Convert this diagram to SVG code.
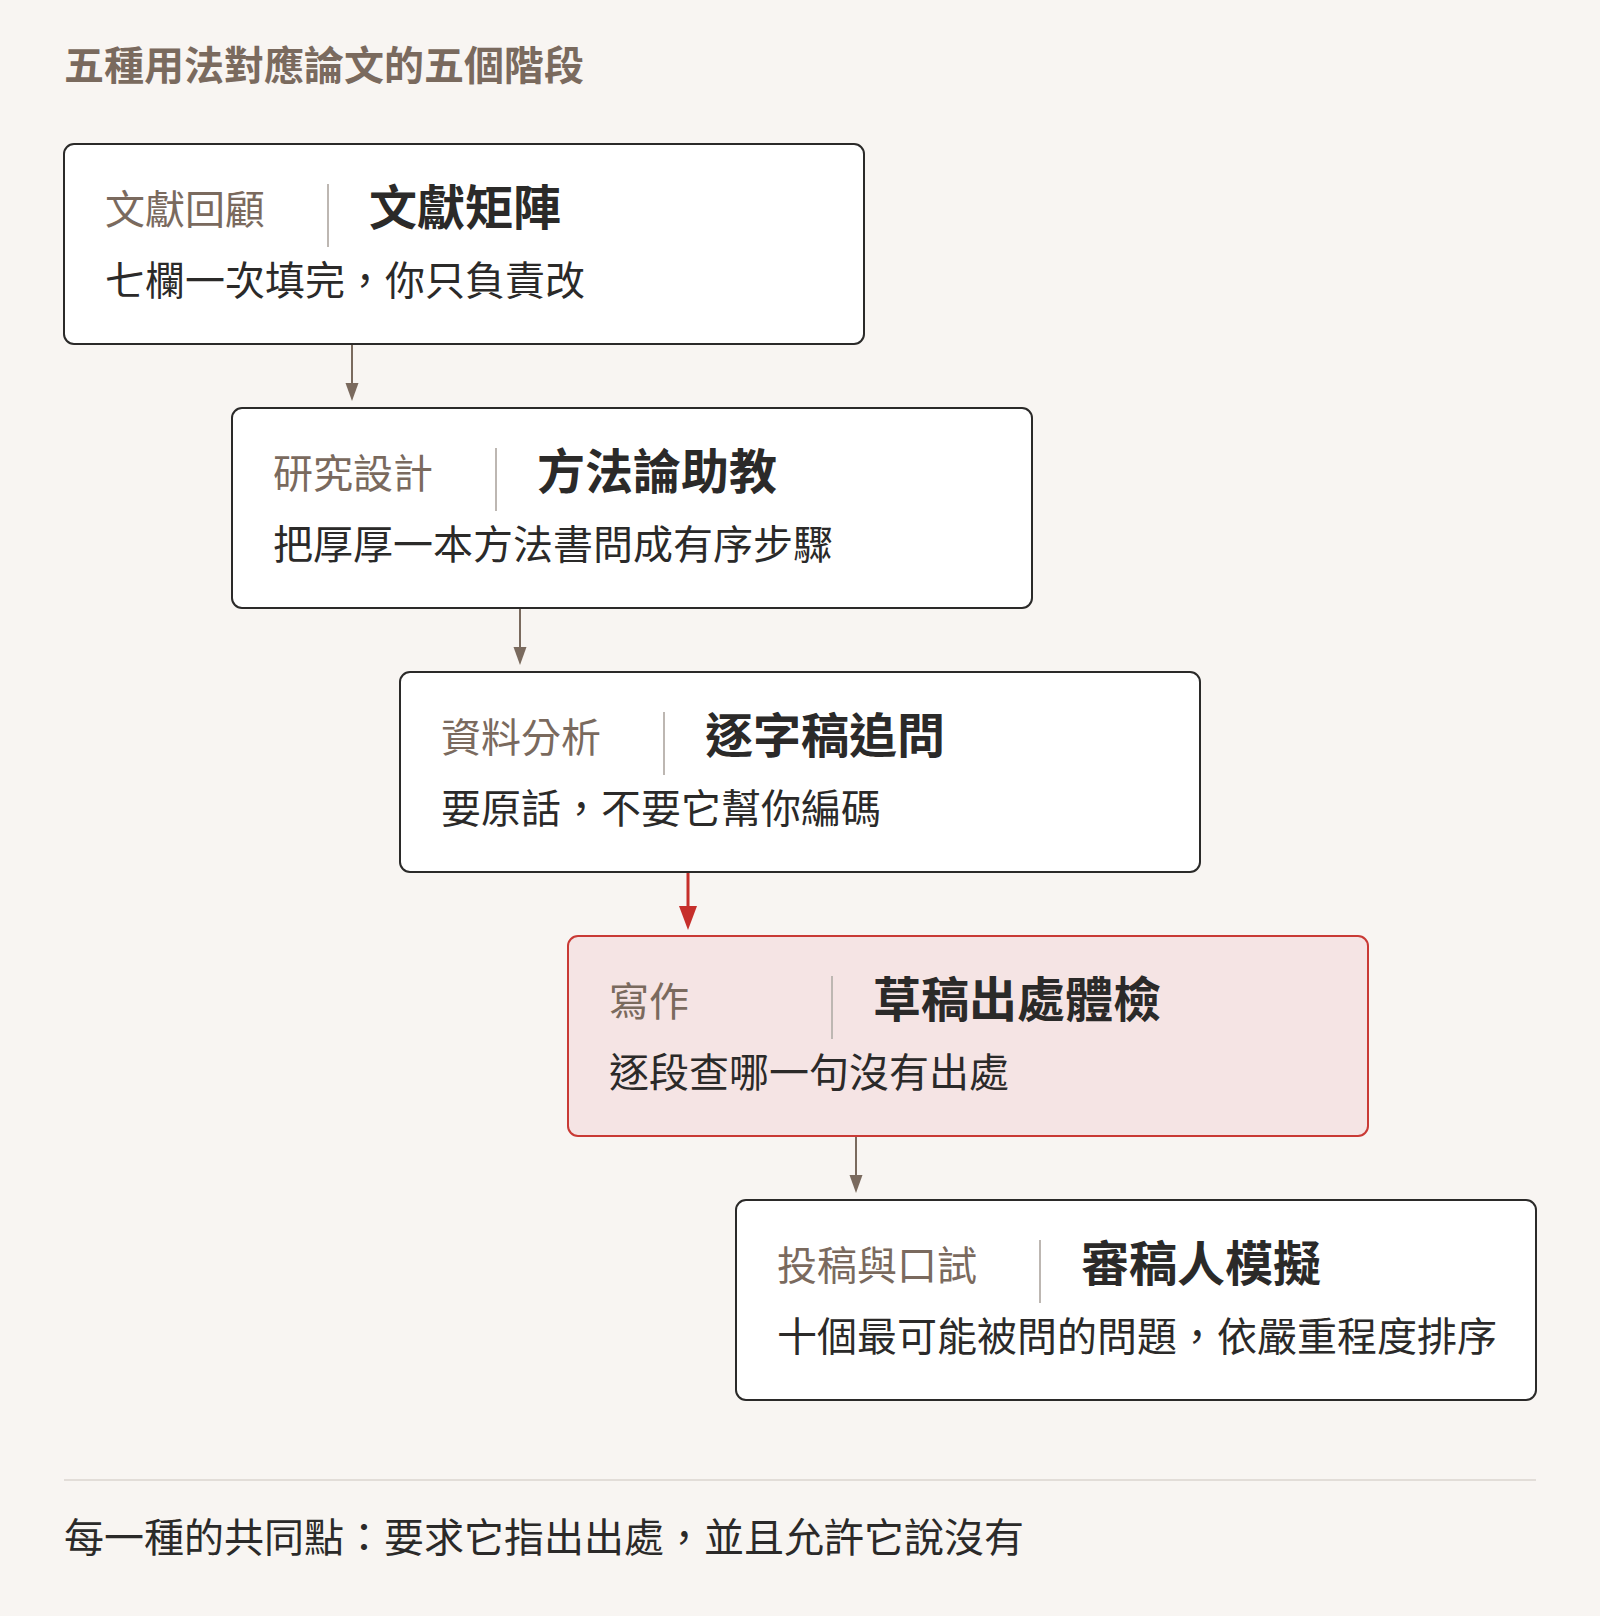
<svg xmlns="http://www.w3.org/2000/svg" width="1600" height="1616" viewBox="0 0 1600 1616">
<defs>
<style>
text{font-family:"Noto Sans CJK TC","Noto Sans CJK SC",sans-serif;}
.hdr{font-size:40px;font-weight:700;fill:#7a6a5e;}
.lab{font-size:40px;font-weight:400;fill:#7a6a5e;}
.ttl{font-size:48px;font-weight:700;fill:#2b2a29;}
.sub{font-size:40px;font-weight:400;fill:#2b2a29;}
.box{fill:#ffffff;stroke:#2b2a29;stroke-width:2;}
.hl{fill:#f5e4e4;stroke:#c93a35;stroke-width:2;}
.div{stroke:#bdb7b2;stroke-width:2;}
.con{stroke:#7a6a5e;stroke-width:2;fill:none;}
.conr{stroke:#c62f2b;stroke-width:3;fill:none;}
</style>
</defs>
<rect x="0" y="0" width="1600" height="1616" fill="#f8f5f2"/>
<text class="hdr" x="64" y="80">五種用法對應論文的五個階段</text>

<g id="connectors">
<line class="con" x1="352" y1="345" x2="352" y2="385"/>
<path d="M345.5,383 L358.5,383 L352,401 Z" fill="#7a6a5e"/>
<line class="con" x1="520" y1="609" x2="520" y2="649"/>
<path d="M513.5,647 L526.5,647 L520,665 Z" fill="#7a6a5e"/>
<line class="conr" x1="688" y1="873" x2="688" y2="908"/>
<path d="M679,906 L697,906 L688,930 Z" fill="#c62f2b"/>
<line class="con" x1="856" y1="1137" x2="856" y2="1177"/>
<path d="M849.5,1175 L862.5,1175 L856,1193 Z" fill="#7a6a5e"/>
</g>

<g id="node1">
<rect class="box" x="64" y="144" width="800" height="200" rx="10"/>
<text class="lab" x="105" y="224">文獻回顧</text>
<line class="div" x1="328" y1="184" x2="328" y2="247"/>
<text class="ttl" x="369" y="225">文獻矩陣</text>
<text class="sub" x="105" y="295">七欄一次填完，你只負責改</text>
</g>

<g id="node2">
<rect class="box" x="232" y="408" width="800" height="200" rx="10"/>
<text class="lab" x="273" y="488">研究設計</text>
<line class="div" x1="496" y1="448" x2="496" y2="511"/>
<text class="ttl" x="537" y="489">方法論助教</text>
<text class="sub" x="273" y="559">把厚厚一本方法書問成有序步驟</text>
</g>

<g id="node3">
<rect class="box" x="400" y="672" width="800" height="200" rx="10"/>
<text class="lab" x="441" y="752">資料分析</text>
<line class="div" x1="664" y1="712" x2="664" y2="775"/>
<text class="ttl" x="705" y="753">逐字稿追問</text>
<text class="sub" x="441" y="823">要原話，不要它幫你編碼</text>
</g>

<g id="node4">
<rect class="hl" x="568" y="936" width="800" height="200" rx="10"/>
<text class="lab" x="609" y="1016">寫作</text>
<line class="div" x1="832" y1="976" x2="832" y2="1039"/>
<text class="ttl" x="873" y="1017">草稿出處體檢</text>
<text class="sub" x="609" y="1087">逐段查哪一句沒有出處</text>
</g>

<g id="node5">
<rect class="box" x="736" y="1200" width="800" height="200" rx="10"/>
<text class="lab" x="777" y="1280">投稿與口試</text>
<line class="div" x1="1040" y1="1240" x2="1040" y2="1303"/>
<text class="ttl" x="1081" y="1281">審稿人模擬</text>
<text class="sub" x="777" y="1351">十個最可能被問的問題，依嚴重程度排序</text>
</g>

<line x1="64" y1="1480" x2="1536" y2="1480" stroke="#e2ddd8" stroke-width="2"/>
<text class="sub" x="64" y="1552">每一種的共同點：要求它指出出處，並且允許它說沒有</text>
</svg>
